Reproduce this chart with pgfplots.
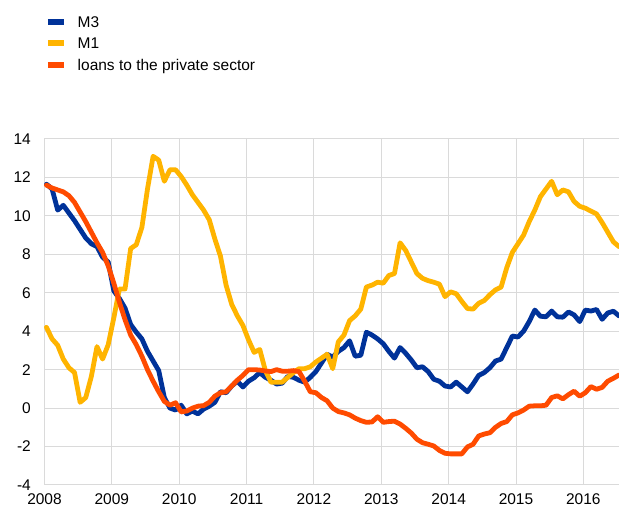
\documentclass[border=0pt]{standalone}
\usepackage{fontspec}
\setmainfont{Liberation Sans}
\usepackage{pgfplots}
\usepackage{pgfplotstable}
\pgfplotsset{compat=1.18}
\definecolor{ecbblue}{HTML}{003299}
\definecolor{ecbyellow}{HTML}{FFB400}
\definecolor{ecborange}{HTML}{FF4B00}
\definecolor{gridgray}{HTML}{DADADA}
\pgfplotstableread{
m v
0 11.65
1 11.4
2 10.3
3 10.55
4 10.15
5 9.75
6 9.3
7 8.85
8 8.55
9 8.4
10 7.85
11 7.6
12 6.1
13 5.7
14 5.2
15 4.35
16 3.95
17 3.6
18 2.95
19 2.45
20 1.95
21 0.55
22 0.0
23 -0.1
24 0.15
25 -0.3
26 -0.15
27 -0.3
28 -0.05
29 0.1
30 0.3
31 0.85
32 0.8
33 1.15
34 1.4
35 1.1
36 1.4
37 1.58
38 1.85
39 1.6
40 1.45
41 1.25
42 1.3
43 1.65
44 1.6
45 1.45
46 1.35
47 1.6
48 1.9
49 2.35
50 2.8
51 2.65
52 2.95
53 3.15
54 3.5
55 2.7
56 2.75
57 3.95
58 3.8
59 3.6
60 3.35
61 2.95
62 2.6
63 3.15
64 2.85
65 2.5
66 2.1
67 2.15
68 1.9
69 1.5
70 1.4
71 1.15
72 1.1
73 1.35
74 1.1
75 0.85
76 1.25
77 1.7
78 1.85
79 2.1
80 2.45
81 2.55
82 3.15
83 3.75
84 3.7
85 4.0
86 4.5
87 5.1
88 4.78
89 4.75
90 5.05
91 4.75
92 4.73
93 5.0
94 4.85
95 4.5
96 5.1
97 5.05
98 5.13
99 4.62
100 4.95
101 5.04
102 4.8
}\mthree
\pgfplotstableread{
m v
0 4.2
1 3.6
2 3.27
3 2.55
4 2.1
5 1.85
6 0.3
7 0.55
8 1.65
9 3.2
10 2.55
11 3.3
12 4.7
13 6.2
14 6.2
15 8.3
16 8.5
17 9.4
18 11.4
19 13.1
20 12.9
21 11.8
22 12.4
23 12.4
24 12.05
25 11.6
26 11.1
27 10.7
28 10.3
29 9.8
30 8.8
31 7.9
32 6.4
33 5.4
34 4.8
35 4.3
36 3.55
37 2.9
38 3.05
39 1.95
40 1.35
41 1.35
42 1.35
43 1.6
44 1.85
45 2.05
46 2.05
47 2.15
48 2.4
49 2.6
50 2.8
51 2.05
52 3.45
53 3.8
54 4.55
55 4.8
56 5.15
57 6.3
58 6.4
59 6.55
60 6.5
61 6.9
62 7.0
63 8.6
64 8.2
65 7.6
66 7.0
67 6.75
68 6.63
69 6.55
70 6.45
71 5.8
72 6.05
73 5.95
74 5.55
75 5.18
76 5.15
77 5.45
78 5.6
79 5.9
80 6.15
81 6.3
82 7.3
83 8.1
84 8.55
85 9.0
86 9.7
87 10.3
88 11.0
89 11.4
90 11.8
91 11.1
92 11.35
93 11.25
94 10.75
95 10.5
96 10.4
97 10.25
98 10.1
99 9.65
100 9.15
101 8.65
102 8.4
}\mone
\pgfplotstableread{
m v
0 11.6
1 11.45
2 11.35
3 11.25
4 11.05
5 10.7
6 10.2
7 9.7
8 9.15
9 8.6
10 8.1
11 7.4
12 6.5
13 5.5
14 4.6
15 3.8
16 3.3
17 2.7
18 2.0
19 1.4
20 0.85
21 0.35
22 0.15
23 0.28
24 -0.2
25 -0.15
26 0.0
27 0.1
28 0.13
29 0.3
30 0.62
31 0.8
32 0.85
33 1.15
34 1.45
35 1.7
36 2.0
37 2.0
38 1.98
39 1.93
40 1.9
41 2.0
42 1.92
43 1.92
44 1.95
45 1.9
46 1.4
47 0.85
48 0.8
49 0.55
50 0.38
51 0.0
52 -0.18
53 -0.25
54 -0.35
55 -0.52
56 -0.65
57 -0.74
58 -0.72
59 -0.45
60 -0.74
61 -0.7
62 -0.68
63 -0.83
64 -1.05
65 -1.3
66 -1.62
67 -1.8
68 -1.88
69 -1.97
70 -2.2
71 -2.35
72 -2.38
73 -2.38
74 -2.38
75 -2.02
76 -1.88
77 -1.45
78 -1.35
79 -1.28
80 -1.0
81 -0.8
82 -0.7
83 -0.35
84 -0.25
85 -0.1
86 0.1
87 0.12
88 0.12
89 0.15
90 0.55
91 0.64
92 0.48
93 0.7
94 0.88
95 0.62
96 0.8
97 1.12
98 0.98
99 1.08
100 1.4
101 1.55
102 1.72
}\loans
\begin{document}
\begin{tikzpicture}
\begin{axis}[
  at={(0pt,0pt)}, anchor=south west,
  scale only axis, width=574.5pt, height=346pt,
  xmin=0, xmax=102.35, ymin=-4, ymax=14,
  xtick={0,12,24,36,48,60,72,84,96},
  xticklabels={2008,2009,2010,2011,2012,2013,2014,2015,2016},
  ytick={-4,-2,0,2,4,6,8,10,12,14},
  yticklabels={-4,-2,0,2,4,6,8,10,12,14},
  grid=major,
  major grid style={line width=1pt, color=gridgray},
  axis line style={draw=none},
  major tick length=0pt,
  tick style={draw=none},
  tick label style={font=\fontsize{15.5}{18}\selectfont, text=black},
  xticklabel style={inner sep=0pt, anchor=north, yshift=-8.5pt},
  yticklabel style={inner sep=0pt, anchor=east, xshift=-13.5pt},
  clip=false,
  legend cell align=left,
  legend style={at={(0,1)}, anchor=north west, xshift=0.5pt, yshift=124.25pt,
    draw=none, fill=none, inner sep=0pt, outer sep=0pt,
    row sep=7.6pt, column sep=11pt,
    font=\fontsize{15.5}{18}\selectfont,
    nodes={inner sep=0pt, text height=12.5pt, text depth=1.4pt}},
  legend image code/.code={\draw[line width=5.7pt, line cap=butt] (0pt,0pt) -- (16pt,0pt);},
  every axis plot/.append style={line width=4.8pt, line join=round, line cap=round},
]
\addplot[color=ecbblue] table[x expr=\thisrow{m}+0.35, y=v] {\mthree};
\addlegendentry{M3}
\addplot[color=ecbyellow] table[x expr=\thisrow{m}+0.35, y=v] {\mone};
\addlegendentry{M1}
\addplot[color=ecborange] table[x expr=\thisrow{m}+0.35, y=v] {\loans};
\addlegendentry{loans to the private sector}
\end{axis}
\pgfresetboundingbox
\useasboundingbox (-44.5pt,-23pt) rectangle (574.5pt,485pt);
\end{tikzpicture}
\end{document}
